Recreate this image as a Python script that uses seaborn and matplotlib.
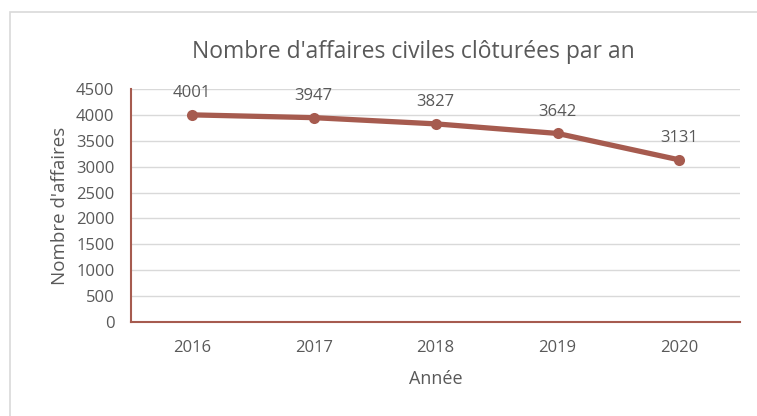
import matplotlib
matplotlib.use("Agg")
import matplotlib.pyplot as plt
import seaborn as sns
import pandas as pd
from matplotlib.patches import Rectangle

# donnees
annees = ["2016", "2017", "2018", "2019", "2020"]
affaires = [4001, 3947, 3827, 3642, 3131]

sns.set_style("white")
plt.rcParams["font.family"] = ["Open Sans", "DejaVu Sans"]

couleur = "#A65B4F"
gris = "#595959"

df = pd.DataFrame({"Année": annees, "Affaires": affaires})

fig = plt.figure(figsize=(7.57, 4.16), dpi=100)
ax = fig.add_axes([0.173, 0.226, 0.805, 0.56])

# cadre du graphique
fig.patches.append(Rectangle((10 / 757, -0.1), 1.1, 1 - 12 / 416 + 0.1,
                             transform=fig.transFigure, fill=False,
                             edgecolor="#d9d9d9", linewidth=1.2))

sns.lineplot(data=df, x="Année", y="Affaires", ax=ax, color=couleur,
             linewidth=3.8, marker="o", markersize=8, markeredgewidth=0,
             sort=False)

for i, v in enumerate(affaires):
    ax.annotate(str(v), (i, v), textcoords="offset points", xytext=(0, 10),
                ha="center", va="bottom", fontsize=12, color=gris)

ax.set_xlim(-0.5, 4.5)
ax.set_ylim(0, 4500)
ax.set_yticks(range(0, 4501, 500))
ax.yaxis.grid(True, color="#d9d9d9", linewidth=1)
ax.set_axisbelow(True)

for s in ["top", "right"]:
    ax.spines[s].set_visible(False)
for s in ["left", "bottom"]:
    ax.spines[s].set_color(couleur)
    ax.spines[s].set_linewidth(1.5)

ax.tick_params(axis="both", length=0, labelsize=12, labelcolor=gris)
ax.tick_params(axis="x", pad=13)
ax.tick_params(axis="y", pad=12)

ax.set_xlabel("Année", fontsize=13, color=gris, labelpad=10)
ax.set_ylabel("Nombre d'affaires", fontsize=13.5, color=gris, labelpad=5)
ax.set_title("Nombre d'affaires civiles clôturées par an", fontsize=16.5,
             color=gris, pad=22, x=0.463)

fig.savefig("out.png", dpi=100)
